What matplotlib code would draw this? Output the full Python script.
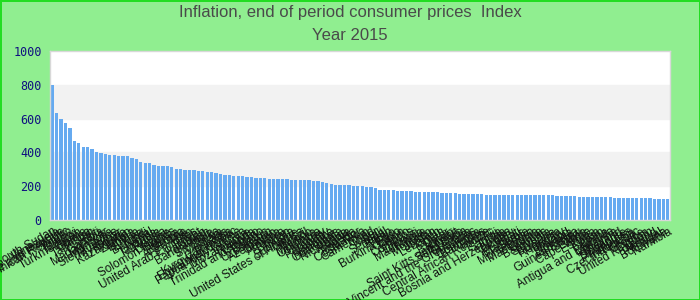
import numpy as np
import matplotlib
matplotlib.use("Agg")
import matplotlib.pyplot as plt

# values, sorted descending
values = (
    [800, 634, 598, 574, 544, 467, 456, 432, 432, 420,
     402, 396, 390, 384, 384, 378, 378, 378, 367, 361,
     343, 337, 337, 325, 320, 320, 320, 314, 302, 302,
     296, 296, 296, 290, 290, 284, 284, 278, 272, 266,
     266, 260, 260, 260, 254, 254, 249, 249, 249, 243,
     243, 243, 243, 243, 237, 237, 237, 237, 237, 231,
     231, 225, 219, 213, 207, 207, 207, 207, 201, 201,
     201, 195, 195, 189, 178, 178, 178, 178, 172, 172,
     172, 172, 166, 166, 166, 166, 166, 166, 160, 160,
     160, 160, 154, 154, 154, 154, 154, 154, 148, 148,
     148, 148, 148, 148, 148, 148, 148, 148, 148, 148,
     148, 148, 148, 148, 142, 142, 142, 142, 142, 136,
     136, 136, 136, 136, 136, 136, 136, 130, 130, 130,
     130, 130, 130, 130, 130, 130, 124, 124, 124, 124]
)

countries = [
    "South Sudan", "Venezuela", "Sao Tome and Principe", "Dominican Republic", "Yemen",
    "Malawi", "Turkmenistan", "Ghana", "Guinea", "Tajikistan",
    "Haiti", "Gambia", "Madagascar", "Mongolia", "Sierra Leone",
    "Myanmar", "Nigeria", "Kazakhstan", "Zambia", "Liberia",
    "Eritrea", "Burundi", "Nepal", "Uganda", "Tanzania",
    "Russia", "Ukraine", "Solomon Islands", "Kenya", "Ethiopia",
    "Argentina", "Iran", "United Arab Emirates", "Egypt", "Pakistan",
    "Bangladesh", "India", "Sri Lanka", "Vietnam", "Laos",
    "Cambodia", "Kyrgyz Republic", "Equatorial Guinea", "Papua New Guinea", "Mozambique",
    "Rwanda", "Lesotho", "Trinidad and Tobago", "Belarus", "Uzbekistan",
    "Azerbaijan", "Georgia", "Armenia", "Bhutan", "Angola",
    "Suriname", "United States of America", "Brazil", "Mexico", "Moldova",
    "Colombia", "Uruguay", "Paraguay", "Jamaica", "Honduras",
    "Guatemala", "Nicaragua", "Albania", "Algeria", "Ecuador",
    "Costa Rica", "Cameroon", "Chad", "Niger", "Mali",
    "Senegal", "Benin", "Togo", "Burkina Faso", "Gabon",
    "Congo", "Comoros", "Djibouti", "Mauritania", "Tunisia",
    "Morocco", "Jordan", "Lebanon", "Oman", "Qatar",
    "Bahrain", "Kuwait", "Saint Kitts and Nevis", "Saint Lucia", "Grenada",
    "Saint Vincent and the Grenadines", "Dominica", "Barbados", "Belize", "Central African Republic",
    "Fiji", "Samoa", "Tonga", "Bosnia and Herzegovina", "Vanuatu",
    "Kiribati", "Maldives", "Serbia", "Montenegro", "Macedonia",
    "Croatia", "Bahamas", "Slovenia", "Bulgaria", "Romania",
    "Hungary", "Poland", "Slovakia", "Lithuania", "Guinea-Bissau",
    "Latvia", "Cape Verde", "Estonia", "Korea", "Japan",
    "China", "Antigua and Barbuda", "Malaysia", "Thailand", "Singapore",
    "Philippines", "Indonesia", "Czech Republic", "Greece", "Cyprus",
    "United Kingdom", "Ireland", "Portugal", "Botswana", "Namibia",
]

title = "Inflation, end of period consumer prices  Index"
subtitle = "Year 2015"
yticks = [0, 200, 400, 600, 800, 1000]

fig = plt.figure(figsize=(7, 3), dpi=100)
fig.patch.set_facecolor("#90ee90")
fig.patch.set_edgecolor("#22dd22")
fig.patch.set_linewidth(2)

ax = fig.add_axes([50 / 700, 80 / 300, 620 / 700, 169 / 300])
ax.set_facecolor("white")
# alternating light bands behind the bars
for lo, hi in [(200, 400), (600, 800)]:
    ax.axhspan(lo, hi, color="#f2f2f2", zorder=0)

x = np.arange(len(values))
ax.bar(x, values, width=0.75, color="#66aaf0", zorder=2)

ax.set_xlim(-0.5, len(values) - 0.5)
ax.set_ylim(0, 1000)
ax.set_yticks(yticks)
ax.set_yticklabels([str(v) for v in yticks], family="DejaVu Sans Mono",
                   fontsize=8.5, color="#101080")
ax.set_xticks(x)
ax.set_xticklabels(countries, rotation=30, ha="right", rotation_mode="anchor",
                   fontsize=8.5, family="Liberation Sans", color="#111111")
ax.tick_params(axis="y", length=0, pad=6)
ax.tick_params(axis="x", length=0, pad=4)
for s in ax.spines.values():
    s.set_color("#d8d8d8")
    s.set_linewidth(1)

fig.text(0.5, 1 - 13 / 300, title, ha="center", va="center", fontsize=12,
         family=["Liberation Sans Narrow", "Liberation Sans"], color="#4a4a4a")
fig.text(0.5, 1 - 36 / 300, subtitle, ha="center", va="center", fontsize=12,
         family=["Liberation Sans Narrow", "Liberation Sans"], color="#4a4a4a")

fig.savefig("out.png", dpi=100, facecolor=fig.get_facecolor(),
            edgecolor=fig.get_edgecolor())
